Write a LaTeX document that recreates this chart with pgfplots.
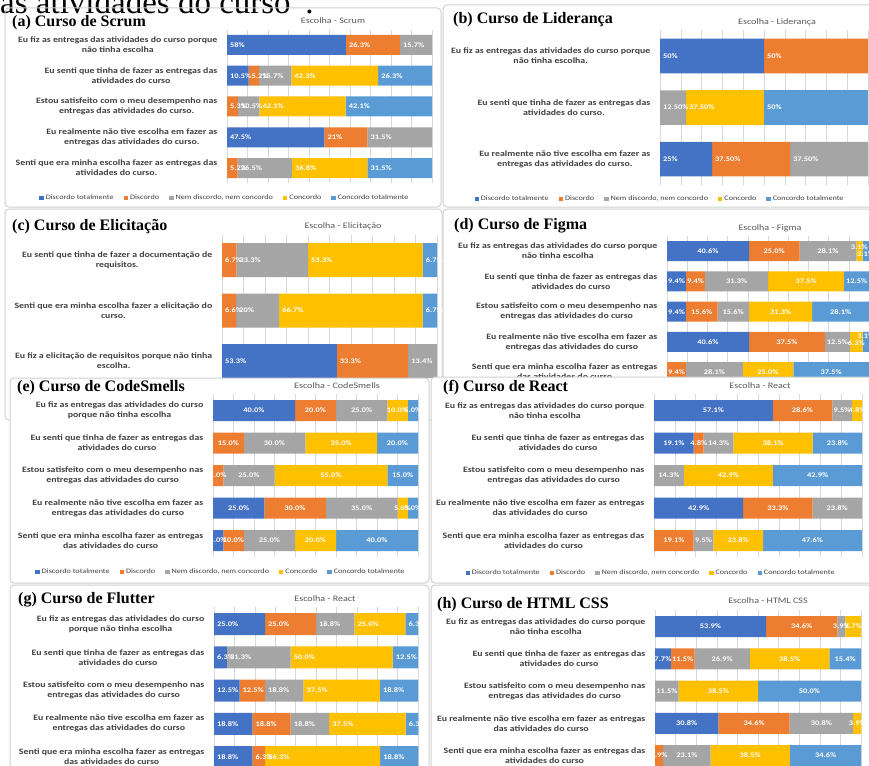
\documentclass[border=0pt]{standalone}
\usepackage{fontspec}
\usepackage{pgfplots}
\usepackage{pgfplotstable}
\pgfplotsset{compat=1.18}
\setmainfont{Carlito}
\newfontfamily\lab[FakeStretch=1.2]{Carlito}
\newfontfamily\ttl{Liberation Serif}

\definecolor{cDT}{HTML}{4472C4}
\definecolor{cD}{HTML}{ED7D31}
\definecolor{cN}{HTML}{A5A5A5}
\definecolor{cC}{HTML}{FFC000}
\definecolor{cCT}{HTML}{5B9BD5}
\definecolor{gridc}{HTML}{D9D9D9}
\definecolor{labc}{HTML}{404040}
\definecolor{titc}{HTML}{595959}
\definecolor{frc}{HTML}{D0D0D0}

\newcommand\tlf{\lab\bfseries\fontsize{8.2}{10}\selectfont}
\newcommand\dlf{\lab\bfseries\fontsize{7}{8}\selectfont}
\newcommand\lgf{\lab\fontsize{6.8}{8}\selectfont}
\newcommand\ctf{\lab\fontsize{8.4}{10}\selectfont}
\newcommand\ptf{\ttl\bfseries\fontsize{16}{18}\selectfont}

% columns: y, Discordo totalmente, Discordo, Nem..., Concordo, Concordo totalmente, labels
\pgfplotstableread[col sep=comma,row sep=\\]{
y,DT,D,N,C,CT,lDT,lD,lN,lC,lCT\\
5,58,26.3,15.7,0,0,58\%,26.3\%,15.7\%,,\\
4,10.5,5.2,15.7,42.3,26.3,10.5\%,5.2\%,15.7\%,42.3\%,26.3\%\\
3,0,5.3,10.5,42.1,42.1,,5.3\%,10.5\%,42.1\%,42.1\%\\
2,47.5,21,31.5,0,0,47.5\%,21\%,31.5\%,,\\
1,0,5.2,26.5,36.8,31.5,,5.2\%,26.5\%,36.8\%,31.5\%\\
}\tabA
\pgfplotstableread[col sep=comma,row sep=\\]{
y,DT,D,N,C,CT,lDT,lD,lN,lC,lCT\\
3,50,50,0,0,0,50\%,50\%,,,\\
2,0,0,12.5,37.5,50,,,12.50\%,37.50\%,50\%\\
1,25,37.5,37.5,0,0,25\%,37.50\%,37.50\%,,\\
}\tabB
\pgfplotstableread[col sep=comma,row sep=\\]{
y,DT,D,N,C,CT,lDT,lD,lN,lC,lCT\\
3,0,6.7,33.3,53.3,6.7,,6.7\%,33.3\%,53.3\%,6.7\%\\
2,0,6.6,20,66.7,6.7,,6.6\%,20\%,66.7\%,6.7\%\\
1,53.3,33.3,13.4,0,0,53.3\%,33.3\%,13.4\%,,\\
}\tabC
\pgfplotstableread[col sep=comma,row sep=\\]{
y,DT,D,N,C,CT,lDT,lD,lN,lC,lCT\\
5,40.6,25.0,28.1,3.1,3.1,40.6\%,25.0\%,28.1\%,3.1\%,3.1\%\\
4,9.4,9.4,31.3,37.5,12.5,9.4\%,9.4\%,31.3\%,37.5\%,12.5\%\\
3,9.4,15.6,15.6,31.3,28.1,9.4\%,15.6\%,15.6\%,31.3\%,28.1\%\\
2,40.6,37.5,12.5,6.3,3.1,40.6\%,37.5\%,12.5\%,6.3\%,3.1\%\\
1,0,9.4,28.1,25.0,37.5,,9.4\%,28.1\%,25.0\%,37.5\%\\
}\tabD
\pgfplotstableread[col sep=comma,row sep=\\]{
y,DT,D,N,C,CT,lDT,lD,lN,lC,lCT\\
5,40,20,25,10,5,40.0\%,20.0\%,25.0\%,10.0\%,5.0\%\\
4,0,15,30,35,20,,15.0\%,30.0\%,35.0\%,20.0\%\\
3,0,5,25,55,15,,5.0\%,25.0\%,55.0\%,15.0\%\\
2,25,30,35,5,5,25.0\%,30.0\%,35.0\%,5.0\%,5.0\%\\
1,5,10,25,20,40,5.0\%,10.0\%,25.0\%,20.0\%,40.0\%\\
}\tabE
\pgfplotstableread[col sep=comma,row sep=\\]{
y,DT,D,N,C,CT,lDT,lD,lN,lC,lCT\\
5,57.1,28.6,9.5,4.8,0,57.1\%,28.6\%,9.5\%,4.8\%,\\
4,19.1,4.8,14.3,38.1,23.8,19.1\%,4.8\%,14.3\%,38.1\%,23.8\%\\
3,0,0,14.3,42.9,42.9,,,14.3\%,42.9\%,42.9\%\\
2,42.9,33.3,23.8,0,0,42.9\%,33.3\%,23.8\%,,\\
1,0,19.1,9.5,23.8,47.6,,19.1\%,9.5\%,23.8\%,47.6\%\\
}\tabF
\pgfplotstableread[col sep=comma,row sep=\\]{
y,DT,D,N,C,CT,lDT,lD,lN,lC,lCT\\
5,25.0,25.0,18.8,25.0,6.3,25.0\%,25.0\%,18.8\%,25.0\%,6.3\%\\
4,6.3,0,31.3,50.0,12.5,6.3\%,,31.3\%,50.0\%,12.5\%\\
3,12.5,12.5,18.8,37.5,18.8,12.5\%,12.5\%,18.8\%,37.5\%,18.8\%\\
2,18.8,18.8,18.8,37.5,6.3,18.8\%,18.8\%,18.8\%,37.5\%,6.3\%\\
1,18.8,6.3,0,56.3,18.8,18.8\%,6.3\%,,56.3\%,18.8\%\\
}\tabG
\pgfplotstableread[col sep=comma,row sep=\\]{
y,DT,D,N,C,CT,lDT,lD,lN,lC,lCT\\
5,53.9,34.6,3.9,7.7,0,53.9\%,34.6\%,3.9\%,7.7\%,\\
4,7.7,11.5,26.9,38.5,15.4,7.7\%,11.5\%,26.9\%,38.5\%,15.4\%\\
3,0,0,11.5,38.5,50.0,,,11.5\%,38.5\%,50.0\%\\
2,30.8,34.6,30.8,3.9,0,30.8\%,34.6\%,30.8\%,3.9\%,\\
1,0,3.9,23.1,38.5,34.6,,3.9\%,23.1\%,38.5\%,34.6\%\\
}\tabH

\pgfplotsset{
  painel/.style={
    xbar stacked, scale only axis, clip=false,
    xmin=0, xmax=100, enlargelimits=false,
    xtick={0,10,...,100}, xticklabels={}, xmajorgrids,
    grid style={draw=gridc, line width=0.6pt},
    axis line style={draw=none}, major tick length=0pt, tick style={draw=none},
    yticklabel style={font=\tlf, align=center, text=labc, inner sep=0pt, xshift=-9.5pt},
    point meta=explicit symbolic,
    nodes near coords={\pgfplotspointmeta},
    every node near coord/.append style={font=\dlf, text=white, inner sep=0pt},
    legend style={draw=none, fill=none, font=\lgf, text=labc, legend columns=-1,
      /tikz/every even column/.append style={column sep=8pt}},
    legend image code/.code={\fill[##1] (0pt,-2.2pt) rectangle (4.4pt,2.2pt);},
  },
  % stacked nodes near coords sit at the middle of each segment already
  centro/.style={every node near coord/.append style={anchor=center}},
  base/.style={every node near coord/.append style={anchor=west, xshift=3pt, shift={(axis direction cs:-\rawx/2,0)}}},
  vd/.style={visualization depends on={\thisrow{#1}\as\rawx}},
}

\newcommand\barras[1]{%
  \addplot[fill=cDT,draw=none,vd=DT] table[x=DT,y=y,meta=lDT]{#1};
  \addplot[fill=cD,draw=none,vd=D] table[x=D,y=y,meta=lD]{#1};
  \addplot[fill=cN,draw=none,vd=N] table[x=N,y=y,meta=lN]{#1};
  \addplot[fill=cC,draw=none,vd=C] table[x=C,y=y,meta=lC]{#1};
  \addplot[fill=cCT,draw=none,vd=CT] table[x=CT,y=y,meta=lCT]{#1};
}
\newcommand\leg{\legend{Discordo totalmente,Discordo,{Nem discordo, nem concordo},Concordo,Concordo totalmente}}

\begin{document}
\begin{tikzpicture}
\useasboundingbox (0pt,0pt) rectangle (869pt,-765pt);

% fragment of caption above
\node[anchor=base west, inner sep=0pt, font=\ttl\fontsize{33}{33}\selectfont] at (-16.5pt,-14pt) {das atividades do curso”.};

% frames top panels
\draw[frc, line width=1pt, rounded corners=4pt] (5pt,-8pt) rectangle (441pt,-207pt);
\draw[frc, line width=1pt, rounded corners=4pt] (443pt,-5pt) rectangle (875pt,-207pt);
\draw[frc, line width=1pt, rounded corners=4pt] (5pt,-209pt) rectangle (442pt,-420pt);
\draw[frc, line width=1pt, rounded corners=4pt] (443pt,-209pt) rectangle (875pt,-420pt);

% (a) Scrum
\begin{axis}[painel, base, at={(227pt,-29.6pt)}, anchor=north west,
  width=205pt, height=153.8pt, ymin=0.5, ymax=5.5, ytick={1,...,5}, bar width=20pt,
  yticklabels={{Senti que era minha escolha fazer as entregas das\\atividades do curso.},
               {Eu realmente não tive escolha em fazer as\\entregas das atividades do curso.},
               {Estou satisfeito com o meu desempenho nas\\entregas das atividades do curso.},
               {Eu senti que tinha de fazer as entregas das\\atividades do curso},
               {Eu fiz as entregas das atividades do curso porque\\não tinha escolha}},
  legend style={at={(-0.01,-0.095)}, anchor=center}]
\barras{\tabA}
\leg
\end{axis}

% (b) Lideranca
\begin{axis}[painel, base, at={(660pt,-30.25pt)}, anchor=north west,
  width=208pt, height=154.5pt, ymin=0.5, ymax=3.5, ytick={1,2,3}, bar width=34.5pt,
  yticklabels={{Eu realmente não tive escolha em fazer as\\entregas das atividades do curso.},
               {Eu senti que tinha de fazer as entregas das\\atividades do curso.},
               {Eu fiz as entregas das atividades do curso porque\\não tinha escolha.}},
  legend style={at={(0,-0.092)}, anchor=center}]
\barras{\tabB}
\leg
\end{axis}

% (c) Elicitacao
\begin{axis}[painel, base, at={(222pt,-234.75pt)}, anchor=north west,
  width=215pt, height=151.5pt, ymin=0.5, ymax=3.5, ytick={1,2,3}, bar width=34pt,
  yticklabels={{Eu fiz a elicitação de requisitos porque não tinha\\escolha.},
               {Senti que era minha escolha fazer a elicitação do\\curso.},
               {Eu senti que tinha de fazer a documentação de\\requisitos.}}]
\barras{\tabC}
\end{axis}

% (d) Figma -- small labels at the right end are staggered as in the original
\begin{axis}[painel, centro, at={(667pt,-236pt)}, anchor=north west,
  width=202pt, height=151.25pt, ymin=0.5, ymax=5.5, ytick={1,...,5}, bar width=20pt,
  yticklabels={{Senti que era minha escolha fazer as entregas\\das atividades do curso},
               {Eu realmente não tive escolha em fazer as\\entregas das atividades do curso},
               {Estou satisfeito com o meu desempenho nas\\entregas das atividades do curso},
               {Eu senti que tinha de fazer as entregas das\\atividades do curso},
               {Eu fiz as entregas das atividades do curso porque\\não tinha escolha}}]
  \addplot[fill=cDT,draw=none,vd=DT] table[x=DT,y=y,meta=lDT]{\tabD};
  \addplot[fill=cD,draw=none,vd=D] table[x=D,y=y,meta=lD]{\tabD};
  \addplot[fill=cN,draw=none,vd=N] table[x=N,y=y,meta=lN]{\tabD};
  \addplot[fill=cC,draw=none,vd=C,
    visualization depends on={4*(\thisrow{y}==5)-1*(\thisrow{y}==2)\as\dy},
    every node near coord/.append style={yshift=\dy pt}] table[x=C,y=y,meta=lC]{\tabD};
  \addplot[fill=cCT,draw=none,vd=CT,
    visualization depends on={-3*(\thisrow{y}==5)+6*(\thisrow{y}==2)\as\dy},
    every node near coord/.append style={yshift=\dy pt}] table[x=CT,y=y,meta=lCT]{\tabD};
\end{axis}

\node[anchor=base west, inner sep=0pt, font=\ptf] at (12pt,-27pt) {(a) Curso de Scrum};
\node[font=\ctf, text=titc] at (333pt,-21pt) {Escolha - Scrum};
\node[anchor=base west, inner sep=0pt, font=\ptf] at (453pt,-24pt) {(b) Curso de Liderança};
\node[font=\ctf, text=titc] at (777pt,-22pt) {Escolha - Liderança};
\node[anchor=base west, inner sep=0pt, font=\ptf] at (12pt,-230pt) {(c) Curso de Elicitação};
\node[font=\ctf, text=titc] at (343pt,-226pt) {Escolha - Elicitação};
\node[anchor=base west, inner sep=0pt, font=\ptf] at (454pt,-229pt) {(d) Curso de Figma};
\node[font=\ctf, text=titc] at (770pt,-228pt) {Escolha - Figma};

% middle panels cover
\filldraw[fill=white, draw=frc, line width=1pt, rounded corners=4pt] (10pt,-378pt) rectangle (429pt,-583pt);
\filldraw[fill=white, draw=frc, line width=1pt, rounded corners=4pt] (431pt,-377pt) rectangle (875pt,-583pt);

% (e) CodeSmells
\begin{axis}[painel, centro, at={(213pt,-394.25pt)}, anchor=north west,
  width=205pt, height=162.5pt, ymin=0.5, ymax=5.5, ytick={1,...,5}, bar width=21pt,
  yticklabels={{Senti que era minha escolha fazer as entregas\\das atividades do curso},
               {Eu realmente não tive escolha em fazer as\\entregas das atividades do curso},
               {Estou satisfeito com o meu desempenho nas\\entregas das atividades do curso},
               {Eu senti que tinha de fazer as entregas das\\atividades do curso},
               {Eu fiz as entregas das atividades do curso\\porque não tinha escolha}},
  legend style={at={(0.039,-0.094)}, anchor=center}]
\barras{\tabE}
\leg
\end{axis}

% (f) React
\begin{axis}[painel, centro, at={(654pt,-394.25pt)}, anchor=north west,
  width=208pt, height=162.5pt, ymin=0.5, ymax=5.5, ytick={1,...,5}, bar width=21pt,
  yticklabels={{Senti que era minha escolha fazer as entregas das\\atividades do curso},
               {Eu realmente não tive escolha em fazer as entregas\\das atividades do curso},
               {Estou satisfeito com o meu desempenho nas\\entregas das atividades do curso},
               {Eu senti que tinha de fazer as entregas das\\atividades do curso},
               {Eu fiz as entregas das atividades do curso porque\\não tinha escolha}},
  legend style={at={(-0.014,-0.1)}, anchor=center}]
\barras{\tabF}
\leg
\end{axis}

\node[anchor=base west, inner sep=0pt, font=\ptf] at (17pt,-391pt) {(e) Curso de CodeSmells};
\node[font=\ctf, text=titc] at (337pt,-386pt) {Escolha - CodeSmells};
\node[anchor=base west, inner sep=0pt, font=\ptf] at (443pt,-391pt) {(f) Curso de React};
\node[font=\ctf, text=titc] at (760pt,-386pt) {Escolha - React};

% bottom panels cover
\filldraw[fill=white, draw=frc, line width=1pt, rounded corners=4pt] (10pt,-585pt) rectangle (429pt,-790pt);
\filldraw[fill=white, draw=frc, line width=1pt, rounded corners=4pt] (431pt,-585pt) rectangle (875pt,-790pt);

% (g) Flutter
\begin{axis}[painel, base, at={(214pt,-607.4pt)}, anchor=north west,
  width=204pt, height=166.25pt, ymin=0.5, ymax=5.5, ytick={1,...,5}, bar width=22pt,
  yticklabels={{Senti que era minha escolha fazer as entregas\\das atividades do curso},
               {Eu realmente não tive escolha em fazer as\\entregas das atividades do curso},
               {Estou satisfeito com o meu desempenho nas\\entregas das atividades do curso},
               {Eu senti que tinha de fazer as entregas das\\atividades do curso},
               {Eu fiz as entregas das atividades do curso\\porque não tinha escolha}}]
\barras{\tabG}
\end{axis}

% (h) HTML CSS
\begin{axis}[painel, centro, at={(655pt,-610.4pt)}, anchor=north west,
  width=206pt, height=161.25pt, ymin=0.5, ymax=5.5, ytick={1,...,5}, bar width=21pt,
  yticklabels={{Senti que era minha escolha fazer as entregas das\\atividades do curso},
               {Eu realmente não tive escolha em fazer as entregas\\das atividades do curso},
               {Estou satisfeito com o meu desempenho nas\\entregas das atividades do curso},
               {Eu senti que tinha de fazer as entregas das\\atividades do curso},
               {Eu fiz as entregas das atividades do curso porque\\não tinha escolha}}]
\barras{\tabH}
\end{axis}

\node[anchor=base west, inner sep=0pt, font=\ptf] at (18pt,-603pt) {(g) Curso de Flutter};
\node[font=\ctf, text=titc] at (325pt,-599pt) {Escolha - React};
\node[anchor=base west, inner sep=0pt, font=\ptf] at (437pt,-608pt) {(h) Curso de HTML CSS};
\node[font=\ctf, text=titc] at (768pt,-601pt) {Escolha - HTML CSS};
\end{tikzpicture}
\end{document}
